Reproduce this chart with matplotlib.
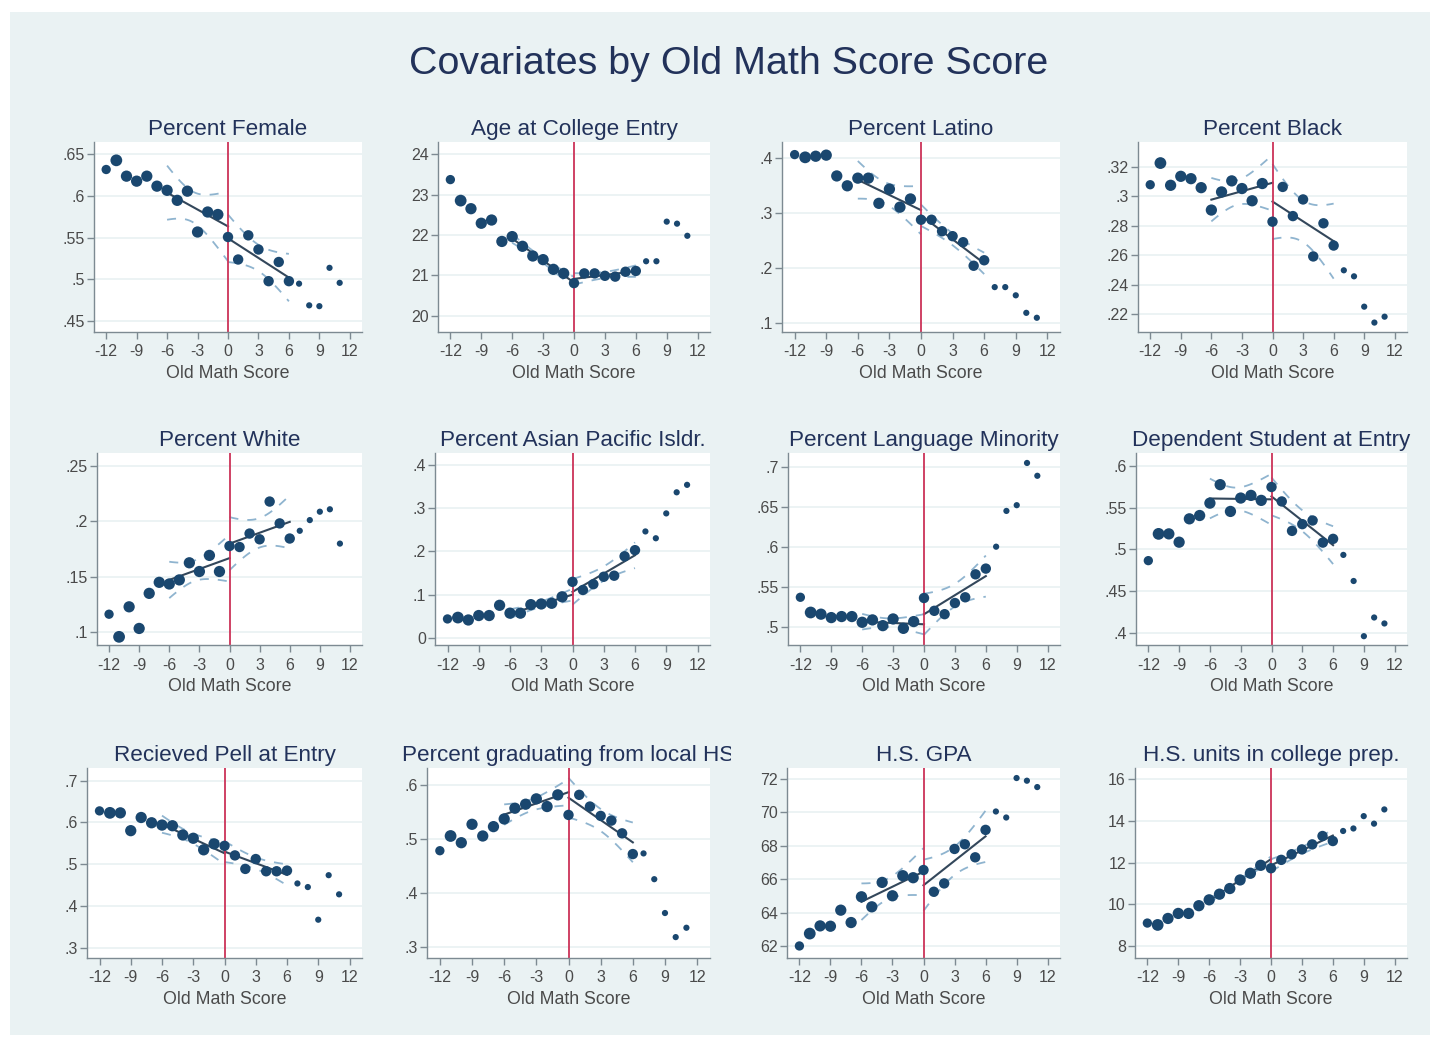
import numpy as np
import matplotlib.pyplot as plt
from matplotlib.patches import Rectangle
from matplotlib.transforms import Bbox, TransformedBbox

plt.rcParams['font.family'] = ['Liberation Sans', 'DejaVu Sans']

# running variable: old math score relative to the cutoff
score = np.arange(-12, 12)

# marker area per bin (bins with more students are drawn larger)
bin_size = [45, 72, 66, 66, 66, 66, 66, 66, 66, 66, 66, 66,
            56, 56, 56, 56, 56, 56, 56, 20, 20, 20, 20, 20]

female = [.632, .643, .624, .618, .624, .612, .607, .595, .606, .557, .581, .578,
          .551, .524, .553, .536, .498, .521, .498, .495, .469, .468, .514, .496]
age = [23.37, 22.85, 22.65, 22.29, 22.37, 21.84, 21.96, 21.72, 21.48, 21.39, 21.15, 21.05,
       20.81, 21.05, 21.05, 20.99, 20.97, 21.09, 21.11, 21.35, 21.35, 22.33, 22.28, 21.98]
latino = [.407, .402, .404, .406, .368, .350, .364, .364, .318, .344, .311, .326,
          .288, .288, .267, .258, .247, .204, .214, .165, .165, .150, .118, .109]
black = [.308, .3227, .3076, .3137, .3121, .306, .2908, .3031, .3106, .3054, .2971, .3088,
         .2829, .3065, .2867, .298, .2593, .2818, .2667, .2499, .2458, .2252, .2144, .2184]
white = [.1159, .0954, .1226, .1030, .1348, .1448, .1433, .1470, .1625, .1546, .1692, .1546,
         .1777, .1768, .1890, .1838, .2180, .1982, .1845, .1915, .2012, .2088, .2110, .1799]
asian = [.0434, .0466, .041, .0513, .0513, .075, .0568, .0568, .0765, .0781, .0797, .0947,
         .1294, .1105, .1239, .1412, .1436, .1886, .2028, .2462, .2304, .2880, .3369, .3542]
lang_min = [.5369, .5178, .5157, .5114, .5127, .5127, .5055, .5085, .5013, .5097, .4979, .5064,
            .536, .5199, .5157, .5297, .5369, .5657, .5729, .6004, .6453, .6525, .7055, .6894]
dependent = [.4865, .5187, .5187, .5087, .5368, .5408, .5557, .5779, .5457, .5618, .5650, .5590,
             .5751, .5577, .5223, .5304, .5348, .5082, .5127, .4934, .4620, .3956, .4181, .4109]
pell = [.6274, .6227, .6227, .5801, .6116, .599, .5935, .5919, .5698, .5619, .5343, .5485,
        .5438, .5209, .4886, .5122, .483, .483, .4846, .4538, .4452, .3671, .4736, .4278]
local_hs = [.4782, .5054, .493, .527, .5054, .5227, .5369, .5567, .5641, .574, .5598, .5814,
            .5443, .5814, .5598, .5425, .5338, .5103, .472, .4732, .4256, .3631, .3186, .3359]
hs_gpa = [62.02, 62.76, 63.22, 63.2, 64.16, 63.42, 64.96, 64.36, 65.82, 65.02, 66.22, 66.1,
          66.56, 65.26, 65.76, 67.82, 68.1, 67.32, 68.96, 70.06, 69.7, 72.06, 71.9, 71.52]
hs_units = [9.11, 9.02, 9.33, 9.57, 9.57, 9.94, 10.22, 10.49, 10.76, 11.17, 11.49, 11.87,
            11.73, 12.13, 12.4, 12.63, 12.87, 13.27, 13.03, 13.51, 13.63, 14.22, 13.86, 14.54]

titles = ['Percent Female', 'Age at College Entry', 'Percent Latino', 'Percent Black',
          'Percent White', 'Percent Asian Pacific Isldr.', 'Percent Language Minority',
          'Dependent Student at Entry', 'Recieved Pell at Entry',
          'Percent graduating from local HS', 'H.S. GPA', 'H.S. units in college prep.']
series = [female, age, latino, black, white, asian, lang_min, dependent,
          pell, local_hs, hs_gpa, hs_units]
yticks = [[.45, .5, .55, .6, .65], [20, 21, 22, 23, 24], [.1, .2, .3, .4],
          [.22, .24, .26, .28, .3, .32], [.1, .15, .2, .25], [0, .1, .2, .3, .4],
          [.5, .55, .6, .65, .7], [.4, .45, .5, .55, .6], [.3, .4, .5, .6, .7],
          [.3, .4, .5, .6], [62, 64, 66, 68, 70, 72], [8, 10, 12, 14, 16]]
ytick_labels = [['.45', '.5', '.55', '.6', '.65'], ['20', '21', '22', '23', '24'],
                ['.1', '.2', '.3', '.4'], ['.22', '.24', '.26', '.28', '.3', '.32'],
                ['.1', '.15', '.2', '.25'], ['0', '.1', '.2', '.3', '.4'],
                ['.5', '.55', '.6', '.65', '.7'], ['.4', '.45', '.5', '.55', '.6'],
                ['.3', '.4', '.5', '.6', '.7'], ['.3', '.4', '.5', '.6'],
                ['62', '64', '66', '68', '70', '72'], ['8', '10', '12', '14', '16']]
ylims = [(.437, .665), (19.6, 24.3), (.083, .43), (.208, .337), (.088, .262), (-.017, .428),
         (.477, .718), (.385, .616), (.2755, .73), (.28, .631), (61.3, 72.66), (7.44, 16.52)]
xticks = [-12, -9, -6, -3, 0, 3, 6, 9, 12]
xtick_labels = ['-12', '-9', '-6', '-3', '0', '3', '6', '9', '12']

# colours (Stata s2color look)
bg = '#eaf2f3'
navy = '#1a476f'
fit_col = '#33475b'
ci_col = '#8fb4cf'
red = '#cc3358'
title_col = '#22325a'
tick_col = '#4a4a4a'

W, H = 1431, 1049
fig = plt.figure(figsize=(W / 100, H / 100), dpi=100, facecolor='white')
fig.patches.append(Rectangle((10 / W, 1 - 1035 / H), 1420 / W, 1023 / H,
                             transform=fig.transFigure, facecolor=bg,
                             edgecolor='none', zorder=-1))
fig.text(729 / W, 1 - 64 / H, 'Covariates by Old Math Score Score', fontsize=28.4,
         ha='center', va='center', color=title_col)

# plot-region boxes in pixels: (left, right) per panel, (top, bottom) per row
lr = [(94, 362), (438, 710), (782, 1060), (1138, 1407),
      (97, 362), (435, 710), (788, 1060), (1136, 1407),
      (87, 362), (427, 710), (787, 1060), (1135, 1407)]
tb = [(142, 332), (453, 645), (768, 958)]


def fit_side(ax, y, lo, hi, t_crit):
    # linear fit with 95% CI on one side of the cutoff
    mask = (score >= lo) & (score <= hi)
    x = score[mask]
    yy = np.array(y)[mask]
    b, a = np.polyfit(x, yy, 1)
    resid = yy - (a + b * x)
    s = np.sqrt((resid ** 2).sum() / (len(x) - 2))
    x1 = 0 if hi < 0 else hi
    xg = np.linspace(lo, x1, 40)
    fit = a + b * xg
    se = s * np.sqrt(1 / len(x) + (xg - x.mean()) ** 2 / ((x - x.mean()) ** 2).sum())
    ax.plot(xg, fit, color=fit_col, lw=1.5, zorder=2)
    ax.plot(xg, fit + t_crit * se, color=ci_col, lw=1.3, ls=(0, (5, 5)), zorder=2)
    ax.plot(xg, fit - t_crit * se, color=ci_col, lw=1.3, ls=(0, (5, 5)), zorder=2)


for i in range(12):
    left, right = lr[i]
    top, bottom = tb[i // 4]
    ax = fig.add_axes([left / W, 1 - bottom / H, (right - left) / W, (bottom - top) / H])
    ax.set_facecolor('white')
    for side in ['top', 'right']:
        ax.spines[side].set_visible(False)
    for side in ['left', 'bottom']:
        ax.spines[side].set_color('#7d8a92')
        ax.spines[side].set_linewidth(1.0)
    ax.set_xlim(-13.2, 13.2)
    ax.set_ylim(*ylims[i])
    ax.set_yticks(yticks[i])
    ax.set_yticklabels(ytick_labels[i], fontsize=11.5, color=tick_col)
    ax.set_xticks(xticks)
    ax.set_xticklabels(xtick_labels, fontsize=11.5, color=tick_col)
    ax.tick_params(length=5, width=1, color='#7d8a92', pad=4)
    ax.tick_params(axis='y', pad=1.5)
    ax.grid(axis='y', color=bg, lw=1.3)
    ax.set_axisbelow(True)

    fit_side(ax, series[i], -6, -1, 2.776)
    fit_side(ax, series[i], 0, 6, 2.571)
    ax.axvline(0, color=red, lw=1.3, zorder=2.5)
    ax.scatter(score, series[i], s=bin_size, color=navy, edgecolors='none', zorder=3)

    ax.set_xlabel('Old Math Score', fontsize=12.8, color=tick_col, labelpad=4)
    t = ax.set_title(titles[i], fontsize=16.2, color=title_col, pad=5)
    if i == 9:
        # title is wider than its cell and gets cut off at the cell edge
        t.set_clip_box(TransformedBbox(Bbox([[380 / W, 0], [731 / W, 1]]), fig.transFigure))
        t.set_clip_on(True)

fig.savefig('out.png', dpi=100, facecolor='white')
